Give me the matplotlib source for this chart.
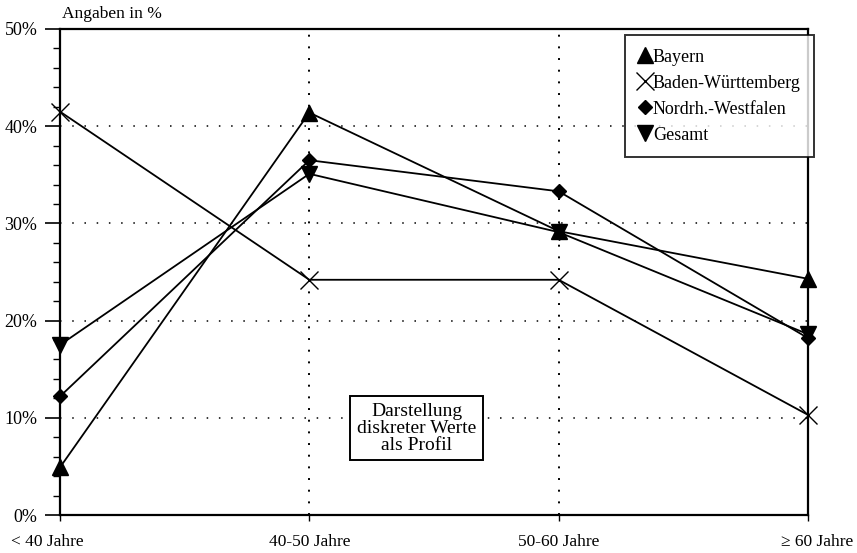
import matplotlib
matplotlib.use("Agg")
import matplotlib.pyplot as plt
import matplotlib.transforms as mtransforms
from matplotlib.ticker import MultipleLocator, FuncFormatter

categories = ["< 40 Jahre", "40-50 Jahre", "50-60 Jahre", "\u2265 60 Jahre"]
bayern = [4.9, 41.4, 29.2, 24.3]
baden_wuerttemberg = [41.5, 24.2, 24.2, 10.3]
nrw = [12.2, 36.5, 33.3, 18.2]
gesamt = [17.5, 35.1, 29.1, 18.6]
series_names = ["Bayern", "Baden-Württemberg", "Nordrh.-Westfalen", "Gesamt"]

plt.rcParams['font.family'] = ['Liberation Serif', 'DejaVu Serif']

fig = plt.figure(figsize=(8.57, 5.53), dpi=100)
ax = fig.add_axes([60/857, 1-515/553, 748/857, 486/553])

x = list(range(len(categories)))
styles = [
    dict(marker='^', markersize=11),
    dict(marker='x', markersize=13, markeredgewidth=1.0),
    dict(marker='D', markersize=7.5),
    dict(marker='v', markersize=11),
]
handles = []
for vals, name, st in zip([bayern, baden_wuerttemberg, nrw, gesamt], series_names, styles):
    h, = ax.plot(x, vals, color='black', lw=1.3, markerfacecolor='black',
                 markeredgecolor='black', clip_on=False, label=name, zorder=3, **st)
    handles.append(h)

ax.set_xlim(0, 3)
ax.set_ylim(0, 50)
ax.yaxis.set_major_locator(MultipleLocator(10))
ax.yaxis.set_minor_locator(MultipleLocator(2))
ax.yaxis.set_major_formatter(FuncFormatter(lambda v, p: f"{int(round(v))}%"))
ax.tick_params(axis='y', which='major', length=10.8, width=1.2, labelsize=13, pad=5.5, direction='out')
ax.tick_params(axis='y', which='minor', length=5, width=1.0, direction='out')

ax.set_xticks(x)
ax.set_xticklabels(categories)
ax.tick_params(axis='x', which='major', length=4.3, width=1.0, labelsize=12.5, pad=9.5, direction='out')
labels = ax.get_xticklabels()
labels[0].set_transform(labels[0].get_transform() + mtransforms.ScaledTranslation(-13/100, 0, fig.dpi_scale_trans))
labels[-1].set_transform(labels[-1].get_transform() + mtransforms.ScaledTranslation(9/100, 0, fig.dpi_scale_trans))

for sp in ax.spines.values():
    sp.set_linewidth(1.6)

for yv in [10, 20, 30, 40]:
    ax.axhline(yv, color='black', lw=1.1, ls=(0, (1, 7)), zorder=1)
for xv in [1, 2]:
    ax.axvline(xv, color='black', lw=1.4, ls=(0, (1, 5)), zorder=1)

fig.text(62/857, 1-14/553, "Angaben in %", fontsize=12.5, va='center', ha='left')

ax.text(1.43, 8.95, "Darstellung\ndiskreter Werte\nals Profil", ha='center', va='center',
        fontsize=14, linespacing=1.0,
        bbox=dict(boxstyle='square,pad=0.35', facecolor='white', edgecolor='black', lw=1.4), zorder=4)

leg = fig.legend(handles=handles, loc='upper left',
                 bbox_to_anchor=(625/857, 1-35/553), frameon=True, fancybox=False,
                 edgecolor='black', fontsize=13, handlelength=0.7, handletextpad=0.1,
                 labelspacing=0.5, borderpad=0.75, borderaxespad=0)
leg.get_frame().set_linewidth(1.4)
for lh in leg.legend_handles:
    lh.set_linestyle('None')

fig.savefig("out.png", dpi=100)
